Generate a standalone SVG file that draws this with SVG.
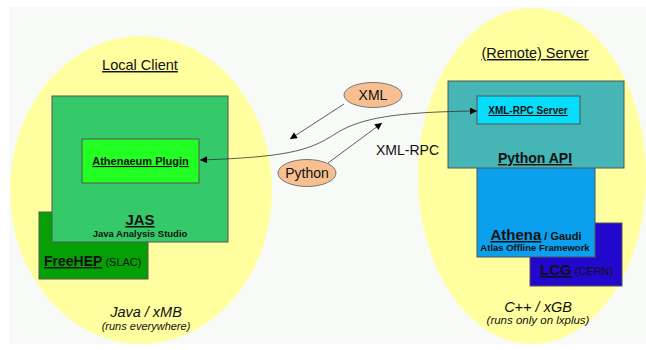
<svg xmlns="http://www.w3.org/2000/svg" width="646" height="350" viewBox="0 0 646 350">
<defs>
<style>
text{font-family:"Liberation Sans",Arial,sans-serif;fill:#111}
.u{text-decoration:underline}
.b{font-weight:bold}
.i{font-style:italic}
.box{stroke:#555;stroke-width:1}
.oval{fill:#f8c090;stroke:#777;stroke-width:1}
.con{fill:none;stroke:#333;stroke-width:0.8}
</style>
<marker id="ah" viewBox="0 0 10 10" refX="10" refY="5" markerWidth="10" markerHeight="7" markerUnits="userSpaceOnUse" orient="auto">
<path d="M0,0 L10,5 L0,10 z" fill="#000"/>
</marker>
<marker id="as" viewBox="0 0 10 10" refX="0" refY="5" markerWidth="10" markerHeight="7" markerUnits="userSpaceOnUse" orient="auto">
<path d="M10,0 L0,5 L10,10 z" fill="#000"/>
</marker>
</defs>
<rect x="0" y="0" width="646" height="350" fill="#fff"/>
<rect x="9" y="7" width="637" height="337" fill="#f7faf7"/>
<g id="local-client">
<ellipse cx="141" cy="190" rx="131" ry="154" fill="#ffffa0"/>
<text x="140" y="70" font-size="14.5" text-anchor="middle" class="u">Local Client</text>
<text x="146" y="317" font-size="14.5" text-anchor="middle" class="i">Java / xMB</text>
<text x="146" y="330" font-size="11" text-anchor="middle" class="i">(runs everywhere)</text>
</g>
<g id="remote-server">
<ellipse cx="532" cy="176" rx="114" ry="168" fill="#ffffa0"/>
<text x="535" y="58" font-size="14.5" text-anchor="middle" class="u">(Remote) Server</text>
<text x="538" y="312" font-size="14.5" text-anchor="middle" class="i">C++ / xGB</text>
<text x="538" y="324" font-size="11.5" text-anchor="middle" class="i">(runs only on lxplus)</text>
</g>
<g id="freehep">
<rect x="39" y="212" width="109" height="67" fill="#05a005" class="box"/>
<text x="44" y="266" font-size="14"><tspan class="b u">FreeHEP</tspan><tspan font-size="11"> (SLAC)</tspan></text>
</g>
<g id="jas">
<rect x="52" y="96" width="176" height="146" fill="#36c96a" class="box"/>
<text x="140" y="225" font-size="15" text-anchor="middle" class="b u">JAS</text>
<text x="140" y="237" font-size="9.5" text-anchor="middle" class="b">Java Analysis Studio</text>
</g>
<g id="athenaeum-plugin">
<rect x="82" y="139" width="117" height="44" fill="#22ff22" class="box"/>
<text x="140.5" y="165" font-size="11" text-anchor="middle" class="b u">Athenaeum Plugin</text>
</g>
<g id="lcg">
<rect x="530" y="223" width="92" height="63" fill="#2208cc" class="box"/>
<text x="540" y="275" font-size="15"><tspan class="b u">LCG</tspan><tspan font-size="11"> (CERN)</tspan></text>
</g>
<g id="athena">
<rect x="477" y="163" width="118" height="94" fill="#0aa0ee" class="box"/>
<text x="536" y="240" font-size="15" text-anchor="middle"><tspan class="b u">Athena</tspan><tspan class="b" font-size="11"> / Gaudi</tspan></text>
<text x="535" y="251" font-size="9.5" text-anchor="middle" class="b">Atlas Offline Framework</text>
</g>
<g id="python-api">
<rect x="448" y="81" width="176" height="87" fill="#45b5b5" class="box"/>
<text x="535" y="163" font-size="14" text-anchor="middle" class="b u">Python API</text>
</g>
<g id="xml-rpc-server">
<rect x="477" y="96" width="103" height="28" fill="#06ddfa" class="box"/>
<text x="528" y="114" font-size="10" text-anchor="middle" class="b u">XML-RPC Server</text>
</g>
<g id="xml">
<ellipse cx="373" cy="95" rx="29" ry="12.5" class="oval"/>
<text x="373" y="100" font-size="14" text-anchor="middle">XML</text>
</g>
<g id="python">
<ellipse cx="307" cy="173" rx="29" ry="13.5" class="oval"/>
<text x="307" y="178" font-size="14" text-anchor="middle">Python</text>
</g>
<g id="connectors">
<line x1="344" y1="104" x2="290" y2="139" class="con" marker-end="url(#ah)"/>
<line x1="328" y1="163" x2="382" y2="123" class="con" marker-end="url(#ah)"/>
<path d="M200,160 C290,157 310,150 335,134 S395,112 477,111" class="con" marker-start="url(#as)" marker-end="url(#ah)"/>
<text x="376" y="155" font-size="14">XML-RPC</text>
</g>
</svg>
